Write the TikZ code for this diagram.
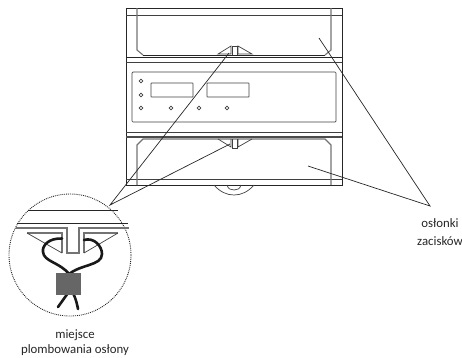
\documentclass[tikz,border=0pt]{standalone}
\usepackage{fontspec}
\setmainfont{Carlito}
\tikzset{
  body/.style={line width=0.9pt,draw=black!85},
  thin line/.style={line width=0.7pt,draw=black!75},
  cover/.style={line width=1.1pt,draw=black!55},
  leader/.style={line width=0.7pt,draw=black!85},
  lbl/.style={font=\fontsize{12.8}{15}\selectfont,text=black!85,inner sep=0pt,anchor=base},
  led/.style={circle,draw=black!75,line width=0.7pt,minimum size=3.6pt,inner sep=0pt},
  wire/.style={line width=2.6pt,draw=black!90,line cap=round},
  graybar/.style={line width=1.2pt,draw=black!55}
}
\begin{document}
\begin{tikzpicture}[x=1pt,y=-1pt]
\useasboundingbox (0,0) rectangle (462,357);
% housing
\draw[body] (126,8) rectangle (342,185);
\draw[thin line] (126,15.5) -- (342,15.5);
\draw[body] (126,57) -- (342,57);
\draw[thin line] (126,62) -- (342,62);
\draw[thin line] (126,132) -- (342,132);
\draw[line width=1.6pt,draw=black!70] (126,137) -- (342,137);
\draw[thin line] (126,179) -- (342,179);
% upper cover
\draw[cover] (137,8) -- (137,50) -- (143,55);
\draw[cover] (331,8) -- (331,50) -- (325,55);
\draw[body] (143,55) -- (325,55);
% lower cover
\draw[cover] (137,185) -- (137,145) -- (143,139) -- (325,139) -- (331,145) -- (331,185);
% panel
\draw[thin line,rounded corners=1pt] (132,72) rectangle (336,122);
\draw[thin line,rounded corners=0.5pt] (151,83) rectangle (193,97);
\draw[thin line,rounded corners=0.5pt] (207,83) rectangle (249,97);
\node[led] (d1) at (141,81) {};
\node[led] (d2) at (141,95) {};
\node[led] (d3) at (141,108) {};
\node[led] (d4) at (171,108) {};
\node[led] (d5) at (199,108) {};
\node[led] (d6) at (227,108) {};
% upper latch
\draw[thin line] (218,54) -- (231,46) -- (231,54) -- cycle;
\draw[thin line] (252,54) -- (238,46) -- (238,54) -- cycle;
\draw[thin line] (232,55) -- (232,46) -- (237,46) -- (237,55);
% lower latch
\draw[thin line] (218,139) -- (231,147) -- (231,139);
\draw[thin line] (252,139) -- (238,147) -- (238,139);
\draw[thin line] (232,139) -- (232,148) -- (237,148) -- (237,139);
% bottom clip
\draw[thin line] (214,185) .. controls (220,192) and (227,195) .. (234,195) .. controls (241,195) and (248,192) .. (254,185);
\draw[thin line] (227,185) .. controls (228,189) and (231,190) .. (234,190) .. controls (237,190) and (240,189) .. (241,185);
% detail circle
\node[circle,draw=black!85,densely dotted,line width=0.9pt,minimum size=122pt,inner sep=0pt] (detail) at (70,255) {};
\draw[body] (28,210) -- (118,210);
\draw[body] (17,223) -- (128,223);
\draw[graybar] (16,228) -- (67,228) -- (67,253) -- (79,253) -- (79,228) -- (129,228);
\draw[graybar] (62,253) -- (62,233) -- (27,233);
\draw[graybar] (84,253) -- (84,233) -- (118,233);
\draw[thin line] (27,233) -- (62,253);
\draw[thin line] (118,233) -- (84,253);
% seal
\draw[wire] (62,238.5) .. controls (48,238) and (42,246) .. (43,252) .. controls (44,262) and (60,262) .. (70,275);
\draw[wire] (84,240) .. controls (94,237) and (102,246) .. (102,254) .. controls (102,266) and (80,264) .. (68,275);
\draw[wire] (68,293) -- (58,307);
\draw[wire] (73,293) .. controls (76,299) and (77,304) .. (78,309);
\node[fill=black!60,minimum width=25pt,minimum height=22pt,inner sep=0pt] (seal) at (68.5,284) {};
% leaders
\coordinate (tipL) at (110,205);
\coordinate (upL) at (229,53);
\coordinate (loL) at (230,144);
\coordinate (tipR) at (430,206);
\coordinate (upR) at (319,38);
\coordinate (loR) at (308,166);
\draw[leader] (upL) -- (tipL) -- (loL);
\draw[leader] (upR) -- (tipR) -- (loR);
% labels
\node[lbl] (l1) at (440,227) {osłonki};
\node[lbl] (l2) at (440,245) {zacisków};
\node[lbl] (l3) at (75,338) {miejsce};
\node[lbl] (l4) at (75,353.5) {plombowania osłony};
\end{tikzpicture}
\end{document}
